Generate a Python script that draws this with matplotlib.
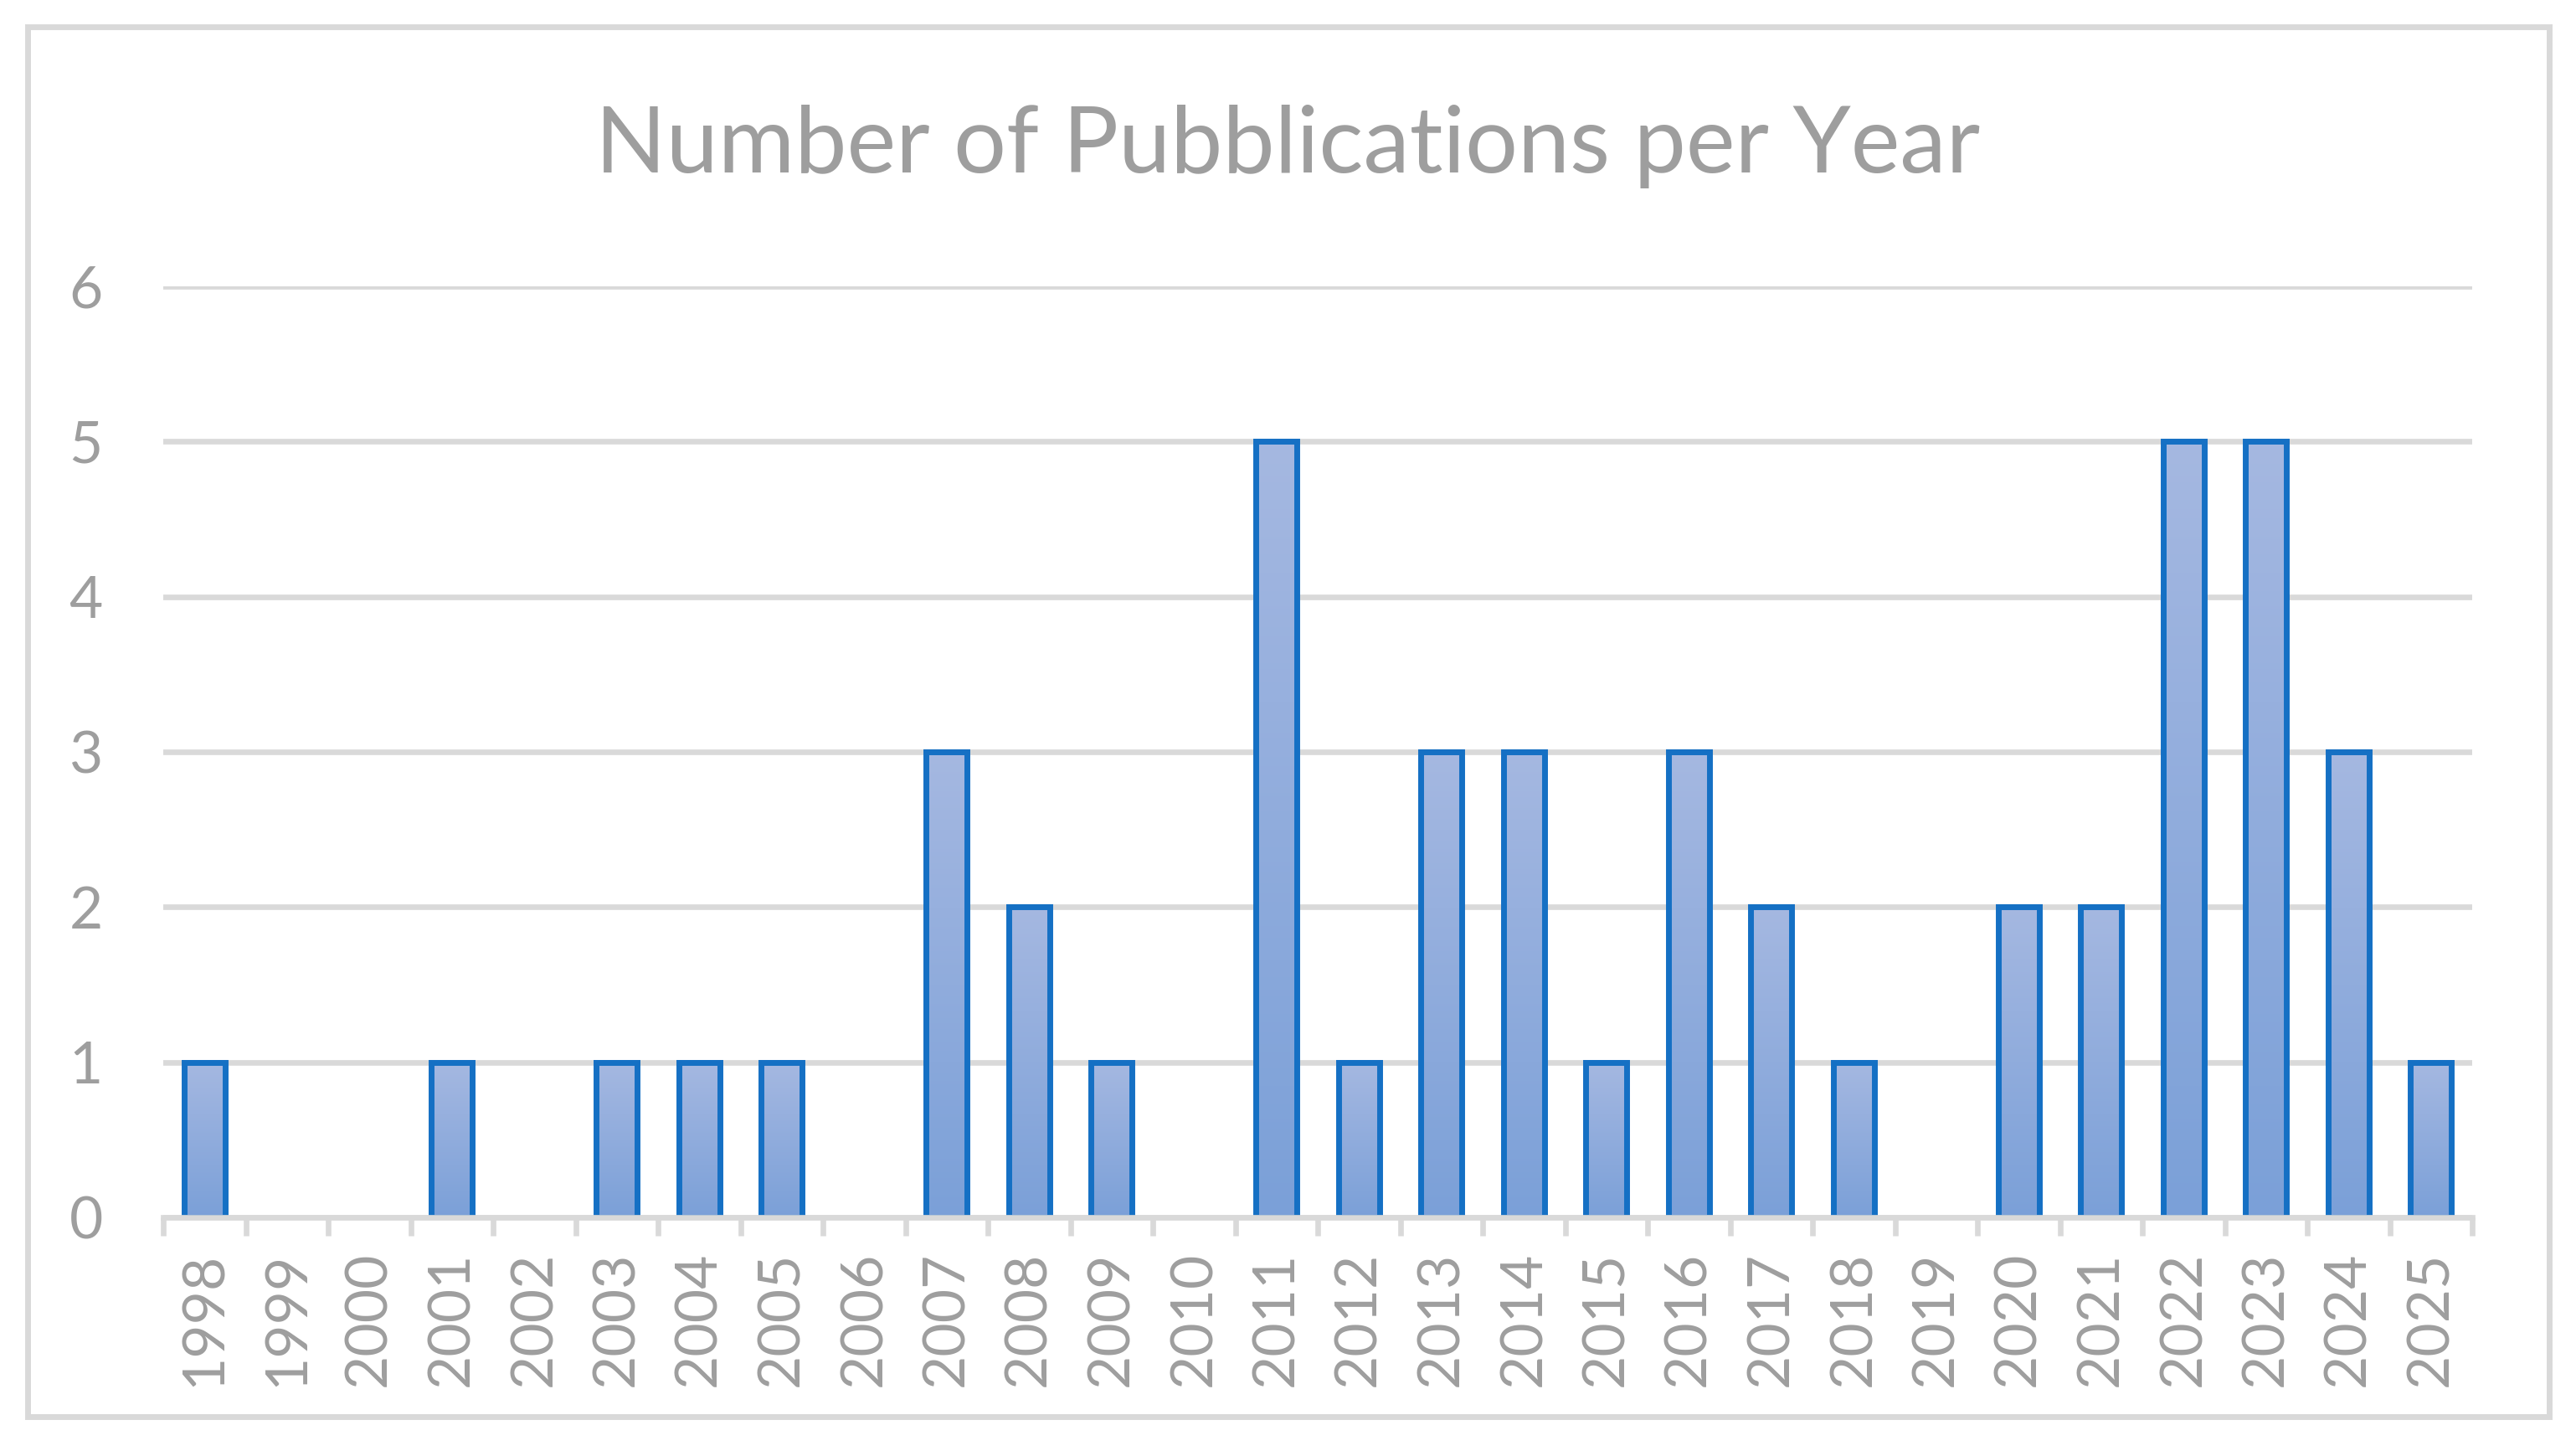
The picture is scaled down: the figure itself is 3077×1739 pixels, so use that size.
import matplotlib
matplotlib.use("Agg")
import matplotlib.pyplot as plt
import numpy as np
from matplotlib.patches import Rectangle
from matplotlib.colors import LinearSegmentedColormap

years = [str(y) for y in range(1998, 2026)]
counts = [1, 0, 0, 1, 0, 1, 1, 1, 0, 3, 2, 1, 0, 5, 1, 3, 3, 1, 3, 2, 1, 0, 2, 2, 5, 5, 3, 1]
yticks = [0, 1, 2, 3, 4, 5, 6]
title = "Number of Pubblications per Year"

plt.rcParams['font.family'] = ['Lato', 'DejaVu Sans']
TXT = '#9E9E9E'
GRID = '#D9D9D9'
EDGE = '#1570C4'
cmap = LinearSegmentedColormap.from_list('g', ['#7BA0D8', '#A5B8E1'])

W, H = 3077, 1739
dpi = 200
fig = plt.figure(figsize=(W / dpi, H / dpi), dpi=dpi)
ax = fig.add_axes([195 / W, 1 - 1454 / H, (2953 - 195) / W, (1454 - 342) / H])

x = np.arange(len(years))
bw = 0.5
bars = ax.bar(x, counts, width=bw, facecolor='none', edgecolor=EDGE,
              linewidth=2.5, zorder=4, joinstyle='miter')
grad = np.linspace(0, 1, 256).reshape(-1, 1)
for b, c in zip(bars, counts):
    if c <= 0:
        b.set_visible(False)
        continue
    x0 = b.get_x()
    ax.imshow(grad, extent=[x0, x0 + bw, 0, c], origin='lower', aspect='auto',
              cmap=cmap, zorder=3, interpolation='bilinear')

ax.set_xlim(-0.5, len(years) - 0.5)
ax.set_ylim(0, 6)
ax.set_yticks(yticks)
ax.set_yticklabels([str(v) for v in yticks])
ax.yaxis.grid(True, color=GRID, linewidth=2.4, zorder=0)
ax.set_axisbelow(True)

ax.set_xticks(x)
ax.set_xticklabels(years, rotation=90)
ax.set_xticks(np.arange(len(years) + 1) - 0.5, minor=True)
ax.tick_params(axis='x', which='major', length=0, pad=14.5, labelsize=25, labelcolor=TXT)
ax.tick_params(axis='x', which='minor', length=8, width=2.4, color=GRID)
ax.tick_params(axis='y', length=0, pad=26, labelsize=25, labelcolor=TXT)
for lab in ax.get_xticklabels():
    lab.set_va('top')
    lab.set_ha('center')

for s in ['top', 'right', 'left']:
    ax.spines[s].set_visible(False)
ax.spines['bottom'].set_color(GRID)
ax.spines['bottom'].set_linewidth(2.4)
ax.spines['bottom'].set_zorder(5)

fig.text(0.5, 1 - 206 / H, title, ha='center', va='baseline', fontsize=40, color=TXT)

frame = Rectangle((33 / W, 1 - 1692 / H), (3045 - 33) / W, (1692 - 32) / H,
                  transform=fig.transFigure, facecolor='none', edgecolor=GRID,
                  linewidth=2.5)
fig.patches.append(frame)

fig.savefig('out.png', dpi=dpi, facecolor='white')
